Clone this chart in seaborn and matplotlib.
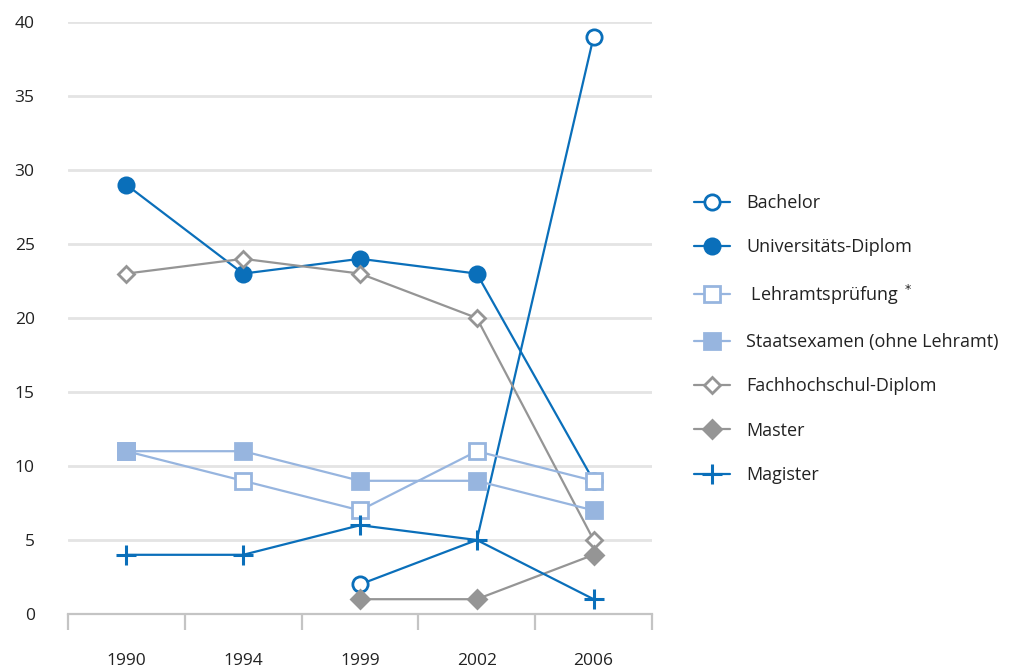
import numpy as np
import pandas as pd
import seaborn as sns
import matplotlib.pyplot as plt

years = ['1990', '1994', '1999', '2002', '2006']
series = ['Bachelor', 'Universitäts-Diplom', ' Lehramtsprüfung $^*$',
          'Staatsexamen (ohne Lehramt)', 'Fachhochschul-Diplom', 'Master', 'Magister']

bachelor = [np.nan, np.nan, 2, 5, 39]
uni_diplom = [29, 23, 24, 23, 9]
lehramt = [11, 9, 7, 11, 9]
staatsexamen = [11, 11, 9, 9, 7]
fh_diplom = [23, 24, 23, 20, 5]
master = [np.nan, np.nan, 1, 1, 4]
magister = [4, 4, 6, 5, 1]

dark = '#0a6fba'
light = '#97b5df'
gray = '#959595'

sns.set_theme(style="white")
plt.rcParams['font.family'] = ['Open Sans', 'DejaVu Sans']

fig = plt.figure(figsize=(10.16, 6.72), dpi=100)
ax = fig.add_axes([68/1016, 1-614/672, (652-68)/1016, (614-22)/672])

# drawing order matters for overlaps
styles = [
    ('Bachelor', bachelor, dark, 'o', 'white', 11, [0, 2]),
    ('Universitäts-Diplom', uni_diplom, dark, 'o', dark, 11, None),
    ('Fachhochschul-Diplom', fh_diplom, gray, 'D', 'white', 8.5, None),
    (' Lehramtsprüfung $^*$', lehramt, light, 's', 'white', 11, None),
    ('Staatsexamen (ohne Lehramt)', staatsexamen, light, 's', light, 11, None),
    ('Master', master, gray, 'D', gray, 9.5, None),
    ('Magister', magister, dark, '+', dark, 14, None),
]

handles = {}
for name, vals, col, mk, face, ms, every in styles:
    df = pd.DataFrame({'x': np.arange(len(years)), 'y': vals}).dropna()
    sns.lineplot(data=df, x='x', y='y', ax=ax, color=col, linewidth=1.6,
                 marker=mk, markersize=ms, markerfacecolor=face,
                 markeredgecolor=col, markeredgewidth=2 if mk != '+' else 2.2,
                 markevery=every, label=name, legend=False)
    handles[name] = ax.lines[-1]

ax.set_xlim(-0.5, len(years) - 0.5)
ax.set_ylim(0, 40)
ax.set_xlabel('')
ax.set_ylabel('')

ax.set_yticks(range(0, 41, 5))
ax.yaxis.grid(True, color='#e4e4e4', linewidth=2)
ax.set_axisbelow(True)
ax.tick_params(axis='y', length=0, pad=24, labelsize=12.5, labelcolor='#222222')

ax.set_xticks(range(len(years)))
ax.set_xticklabels(years)
ax.set_xticks(np.arange(-0.5, len(years), 1), minor=True)
ax.tick_params(axis='x', which='major', length=0, pad=28, labelsize=12.5, labelcolor='#222222')
ax.tick_params(axis='x', which='minor', bottom=True, length=11.5, width=1.6,
               color='#c4c4c4', direction='out')

for s in ['top', 'right', 'left']:
    ax.spines[s].set_visible(False)
ax.spines['bottom'].set_color('#c4c4c4')
ax.spines['bottom'].set_linewidth(1.6)

fig.legend([handles[n] for n in series], series, loc='center left',
            bbox_to_anchor=(694/1016, 1-339/672), frameon=False,
            fontsize=13, handlelength=2.0, handletextpad=0.9,
            labelspacing=1.46, borderpad=0, borderaxespad=0,
            labelcolor='#222222')

fig.savefig('out.png', dpi=100)
